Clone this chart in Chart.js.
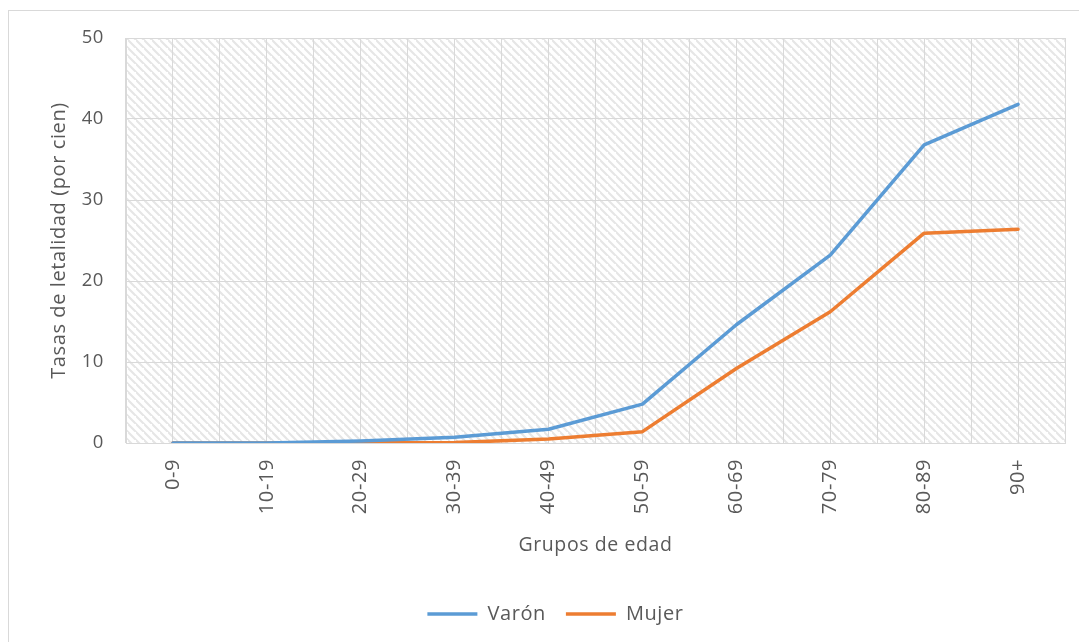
<!DOCTYPE html>
<html>
<head>
<meta charset="utf-8">
<script src="https://cdn.jsdelivr.net/npm/chart.js@4/dist/chart.umd.min.js"></script>
<style>
  html, body { margin: 0; padding: 0; background: #fff; }
  #frame {
    position: absolute; left: 8px; top: 10px; width: 1200px; height: 800px;
    border: 1px solid #d9d9d9; box-sizing: border-box;
  }
  #wrap { position: absolute; left: 0; top: 0; width: 1079px; height: 642px; }
</style>
</head>
<body>
<div id="frame"></div>
<div id="wrap"><canvas id="myChart" width="1079" height="642"></canvas></div>
<script>
// Data
const ageGroups = ['0-9', '10-19', '20-29', '30-39', '40-49', '50-59', '60-69', '70-79', '80-89', '90+'];
const varonRates = [0, 0, 0.25, 0.7, 1.7, 4.8, 14.6, 23.2, 36.8, 41.8];
const mujerRates = [0, 0, 0.02, 0.05, 0.5, 1.4, 9.2, 16.2, 25.9, 26.4];
const yTicks = [0, 10, 20, 30, 40, 50];

const textColor = '#595959';
const gridColor = '#d9d9d9';
const fontFamily = '"Open Sans", Lato, sans-serif';
const letterSpacing = '0.6px';

// Diagonal hatch pattern for the plot area (like Excel's wide downward diagonal)
function makeHatch() {
    const size = 8;
    const c = document.createElement('canvas');
    c.width = size;
    c.height = size;
    const g = c.getContext('2d');
    g.fillStyle = '#ffffff';
    g.fillRect(0, 0, size, size);
    g.strokeStyle = '#e6e6e6';
    g.lineWidth = 2.2;
    g.beginPath();
    g.moveTo(-size, 0); g.lineTo(size * 2, size * 3);
    g.moveTo(-size, -size); g.lineTo(size * 2, size * 2);
    g.moveTo(-size * 2, -size); g.lineTo(size, size * 2);
    g.stroke();
    return g.createPattern(c, 'repeat');
}

const hatchPlugin = {
    id: 'hatchBackground',
    beforeLayout(chart) {
        chart.ctx.letterSpacing = letterSpacing;
    },
    afterLayout(chart) {
        // Excel centres the legend a bit to the right of the canvas centre
        if (chart.legend) {
            chart.legend.left += 23;
            chart.legend.right += 23;
        }
    },
    beforeDraw(chart) {
        const { ctx, chartArea } = chart;
        ctx.letterSpacing = letterSpacing;
        ctx.save();
        ctx.fillStyle = makeHatch();
        ctx.fillRect(chartArea.left, chartArea.top, chartArea.right - chartArea.left, chartArea.bottom - chartArea.top);
        ctx.restore();
    }
};

document.addEventListener('DOMContentLoaded', function() {
    const ctx = document.getElementById('myChart').getContext('2d');
    new Chart(ctx, {
        type: 'line',
        data: {
            labels: ageGroups,
            datasets: [
                {
                    label: 'Varón',
                    data: varonRates,
                    borderColor: '#5b9bd5',
                    backgroundColor: '#5b9bd5',
                    borderWidth: 3.5,
                    borderCapStyle: 'round',
                    borderJoinStyle: 'round',
                    pointRadius: 0,
                    tension: 0,
                },
                {
                    label: 'Mujer',
                    data: mujerRates,
                    borderColor: '#ed7d31',
                    backgroundColor: '#ed7d31',
                    borderWidth: 3.5,
                    borderCapStyle: 'round',
                    borderJoinStyle: 'round',
                    pointRadius: 0,
                    tension: 0,
                },
            ],
        },
        options: {
            responsive: false,
            animation: false,
            layout: {
                padding: { left: 0, top: 38, right: 14, bottom: 8 },
            },
            scales: {
                x: {
                    type: 'category',
                    offset: true,
                    grid: { offset: true, color: gridColor, drawTicks: false },
                    border: { color: gridColor },
                    ticks: {
                        color: textColor,
                        font: { family: fontFamily, size: 20 },
                        minRotation: 90,
                        maxRotation: 90,
                        padding: 16,
                    },
                    title: {
                        display: true,
                        text: 'Grupos de edad',
                        color: textColor,
                        font: { family: fontFamily, size: 19.5 },
                        padding: { top: 0, bottom: 27 },
                    },
                    afterFit(scale) { scale.height = 141; },
                },
                // second category axis only to draw the gridlines through each category
                x2: {
                    type: 'category',
                    position: 'top',
                    offset: true,
                    grid: { offset: false, color: gridColor, drawTicks: false },
                    border: { display: false },
                    ticks: { display: false },
                    afterFit(scale) { scale.height = 0; },
                },
                y: {
                    min: 0,
                    max: 50,
                    afterBuildTicks(scale) { scale.ticks = yTicks.map(v => ({ value: v })); },
                    grid: { color: gridColor, drawTicks: false },
                    border: { color: gridColor },
                    ticks: {
                        color: textColor,
                        font: { family: fontFamily, size: 18.5 },
                        padding: 22,
                    },
                    title: {
                        display: true,
                        text: 'Tasas de letalidad (por cien)',
                        color: textColor,
                        font: { family: fontFamily, size: 20 },
                        padding: { top: 47, bottom: 0 },
                    },
                    afterFit(scale) { scale.width = 126; },
                },
            },
            plugins: {
                legend: {
                    position: 'bottom',
                    labels: {
                        color: textColor,
                        font: { family: fontFamily, size: 20 },
                        usePointStyle: true,
                        pointStyle: 'line',
                        pointStyleWidth: 50,
                        boxHeight: 20,
                        padding: 20,
                    },
                },
                tooltip: { enabled: false },
            },
        },
        plugins: [hatchPlugin],
    });
});
</script>
</body>
</html>
